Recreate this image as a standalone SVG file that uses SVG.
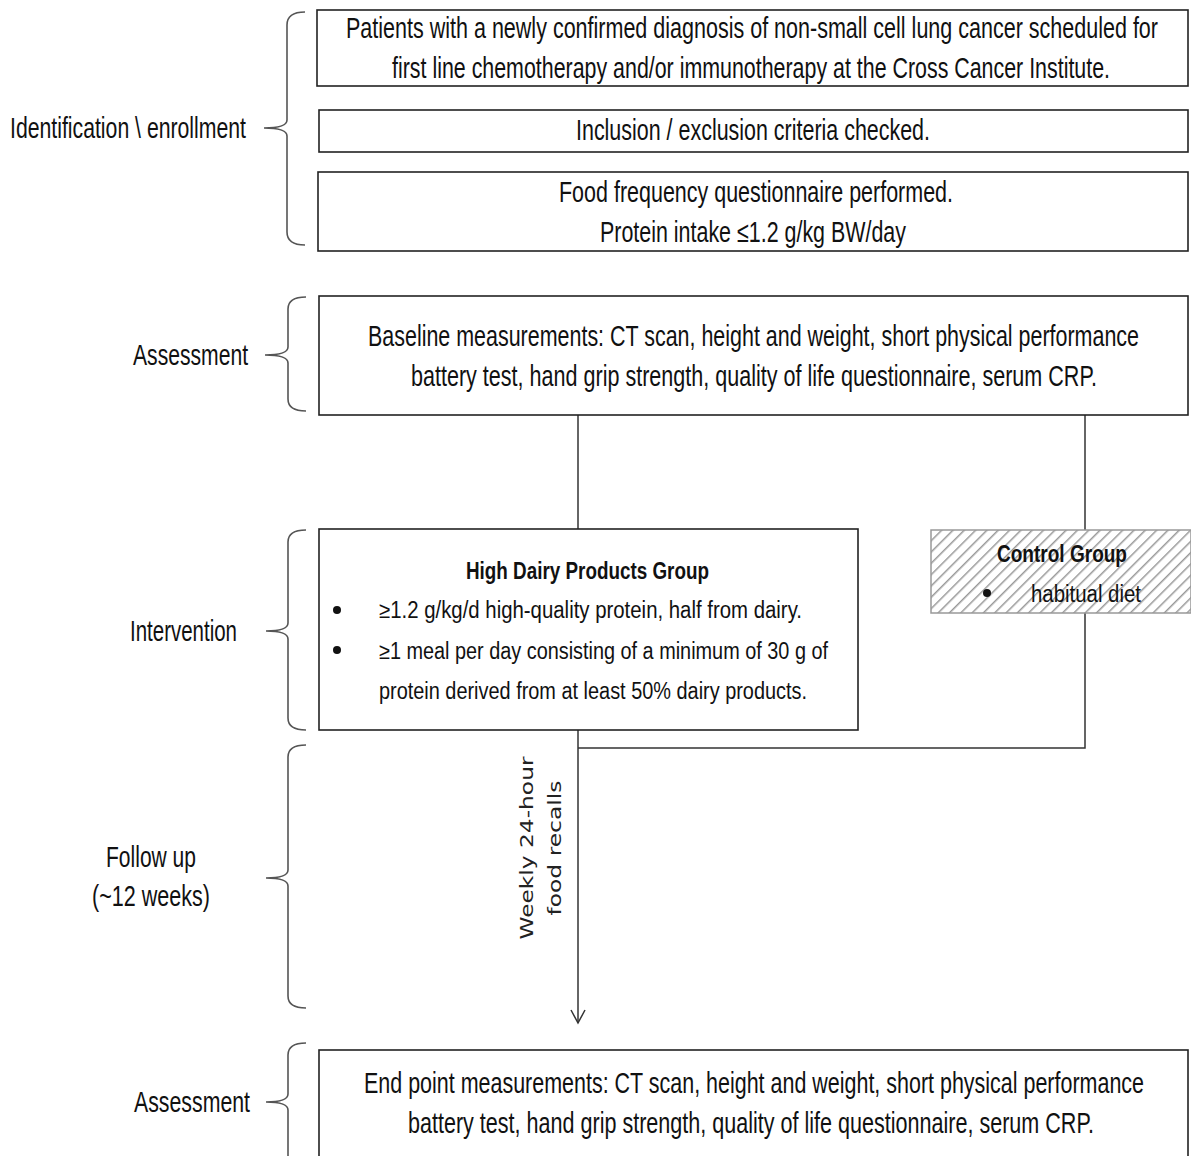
<svg xmlns="http://www.w3.org/2000/svg" width="1191" height="1156" viewBox="0 0 1191 1156">
<style>
.box{fill:#fff;stroke:#222;stroke-width:1.6}
.br{fill:none;stroke:#555;stroke-width:1.6}
.t{font-family:"Liberation Sans",Arial,sans-serif;font-size:29px;fill:#111}
.c{font-family:"Liberation Sans",Arial,sans-serif;font-size:23px;fill:#111}
.cb{font-family:"Liberation Sans",Arial,sans-serif;font-size:23px;font-weight:bold;fill:#111}
.v{font-family:"DejaVu Sans",Verdana,sans-serif;font-size:18px;fill:#222}
.ln{fill:none;stroke:#333;stroke-width:1.5}
</style>
<defs>
<pattern id="hatch" patternUnits="userSpaceOnUse" width="8" height="8" patternTransform="rotate(45)">
<rect width="8" height="8" fill="#fff"/>
<line x1="0" y1="0" x2="0" y2="8" stroke="#999" stroke-width="3"/>
</pattern>
<marker id="arr" markerWidth="16" markerHeight="16" refX="14" refY="8" orient="auto" markerUnits="userSpaceOnUse">
<path d="M1,1 L14,8 L1,15" fill="none" stroke="#333" stroke-width="1.5"/>
</marker>
</defs>
<rect width="1191" height="1156" fill="#fff"/>

<g id="labels">
<g id="label-identification">
<path class="br" d="M305,12 Q287,12 287,25 L287,120 Q287,128 264,128 Q287,128 287,136 L287,232 Q287,245 305,245"/>
<text class="t" x="10" y="138" textLength="236" lengthAdjust="spacingAndGlyphs">Identification \ enrollment</text>
</g>
<g id="label-assessment1">
<path class="br" d="M306,297 Q288,297 288,309 L288,347 Q288,355 265,355 Q288,355 288,363 L288,399 Q288,411 306,411"/>
<text class="t" x="133" y="365" textLength="115" lengthAdjust="spacingAndGlyphs">Assessment</text>
</g>
<g id="label-intervention">
<path class="br" d="M306,530 Q288,530 288,542 L288,623 Q288,631 266,631 Q288,631 288,639 L288,718 Q288,730 306,730"/>
<text class="t" x="130" y="641" textLength="107" lengthAdjust="spacingAndGlyphs">Intervention</text>
</g>
<g id="label-followup">
<path class="br" d="M306,745 Q288,745 288,757 L288,870 Q288,878 266,878 Q288,878 288,886 L288,996 Q288,1008 306,1008"/>
<text class="t" x="106" y="867" textLength="90" lengthAdjust="spacingAndGlyphs">Follow up</text>
<text class="t" x="92" y="906" textLength="118" lengthAdjust="spacingAndGlyphs">(~12 weeks)</text>
</g>
<g id="label-assessment2">
<path class="br" d="M306,1043 Q288,1043 288,1055 L288,1094 Q288,1102 266,1102 Q288,1102 288,1110 L288,1156"/>
<text class="t" x="134" y="1112" textLength="116" lengthAdjust="spacingAndGlyphs">Assessment</text>
</g>
</g>

<g id="connectors">
<line class="ln" x1="578" y1="415" x2="578" y2="529"/>
<line class="ln" x1="1085" y1="415" x2="1085" y2="530"/>
<path class="ln" d="M1085,613 L1085,748 L578,748"/>
<line class="ln" x1="578" y1="730" x2="578" y2="1023" marker-end="url(#arr)"/>
<text class="v" transform="translate(533,848) rotate(-90)" text-anchor="middle" textLength="183" lengthAdjust="spacingAndGlyphs">Weekly 24-hour</text>
<text class="v" transform="translate(561,848) rotate(-90)" text-anchor="middle" textLength="135" lengthAdjust="spacingAndGlyphs">food recalls</text>
</g>

<g id="node-patients">
<rect class="box" x="317" y="10" width="871" height="76"/>
<text class="t" x="346" y="38" textLength="812" lengthAdjust="spacingAndGlyphs">Patients with a newly confirmed diagnosis of non-small cell lung cancer scheduled for</text>
<text class="t" x="392" y="78" textLength="718" lengthAdjust="spacingAndGlyphs">first line chemotherapy and/or immunotherapy at the Cross Cancer Institute.</text>
</g>
<g id="node-inclusion">
<rect class="box" x="319" y="110" width="869" height="42"/>
<text class="t" x="576" y="140" textLength="354" lengthAdjust="spacingAndGlyphs">Inclusion / exclusion criteria checked.</text>
</g>
<g id="node-ffq">
<rect class="box" x="318" y="172" width="870" height="79"/>
<text class="t" x="559" y="202" textLength="394" lengthAdjust="spacingAndGlyphs">Food frequency questionnaire performed.</text>
<text class="t" x="600" y="242" textLength="306" lengthAdjust="spacingAndGlyphs">Protein intake ≤1.2 g/kg BW/day</text>
</g>
<g id="node-baseline">
<rect class="box" x="319" y="296" width="869" height="119"/>
<text class="t" x="368" y="346" textLength="771" lengthAdjust="spacingAndGlyphs">Baseline measurements: CT scan, height and weight, short physical performance</text>
<text class="t" x="411" y="386" textLength="686" lengthAdjust="spacingAndGlyphs">battery test, hand grip strength, quality of life questionnaire, serum CRP.</text>
</g>
<g id="node-highdairy">
<rect class="box" x="319" y="529" width="539" height="201"/>
<text class="cb" x="466" y="579" textLength="243" lengthAdjust="spacingAndGlyphs">High Dairy Products Group</text>
<circle cx="337" cy="610" r="4" fill="#111"/>
<text class="c" x="379" y="618" textLength="423" lengthAdjust="spacingAndGlyphs">≥1.2 g/kg/d high-quality protein, half from dairy.</text>
<circle cx="337" cy="650" r="4" fill="#111"/>
<text class="c" x="379" y="659" textLength="449" lengthAdjust="spacingAndGlyphs">≥1 meal per day consisting of a minimum of 30 g of</text>
<text class="c" x="379" y="699" textLength="428" lengthAdjust="spacingAndGlyphs">protein derived from at least 50% dairy products.</text>
</g>
<g id="node-control">
<rect x="931" y="530" width="260" height="83" fill="url(#hatch)" stroke="#999" stroke-width="1.5"/>
<text class="cb" x="997" y="562" textLength="130" lengthAdjust="spacingAndGlyphs">Control Group</text>
<circle cx="987" cy="593" r="4" fill="#111"/>
<text class="c" x="1031" y="602" textLength="110" lengthAdjust="spacingAndGlyphs">habitual diet</text>
</g>
<g id="node-endpoint">
<rect class="box" x="319" y="1050" width="869" height="110"/>
<text class="t" x="364" y="1093" textLength="780" lengthAdjust="spacingAndGlyphs">End point measurements: CT scan, height and weight, short physical performance</text>
<text class="t" x="408" y="1133" textLength="686" lengthAdjust="spacingAndGlyphs">battery test, hand grip strength, quality of life questionnaire, serum CRP.</text>
</g>
</svg>
